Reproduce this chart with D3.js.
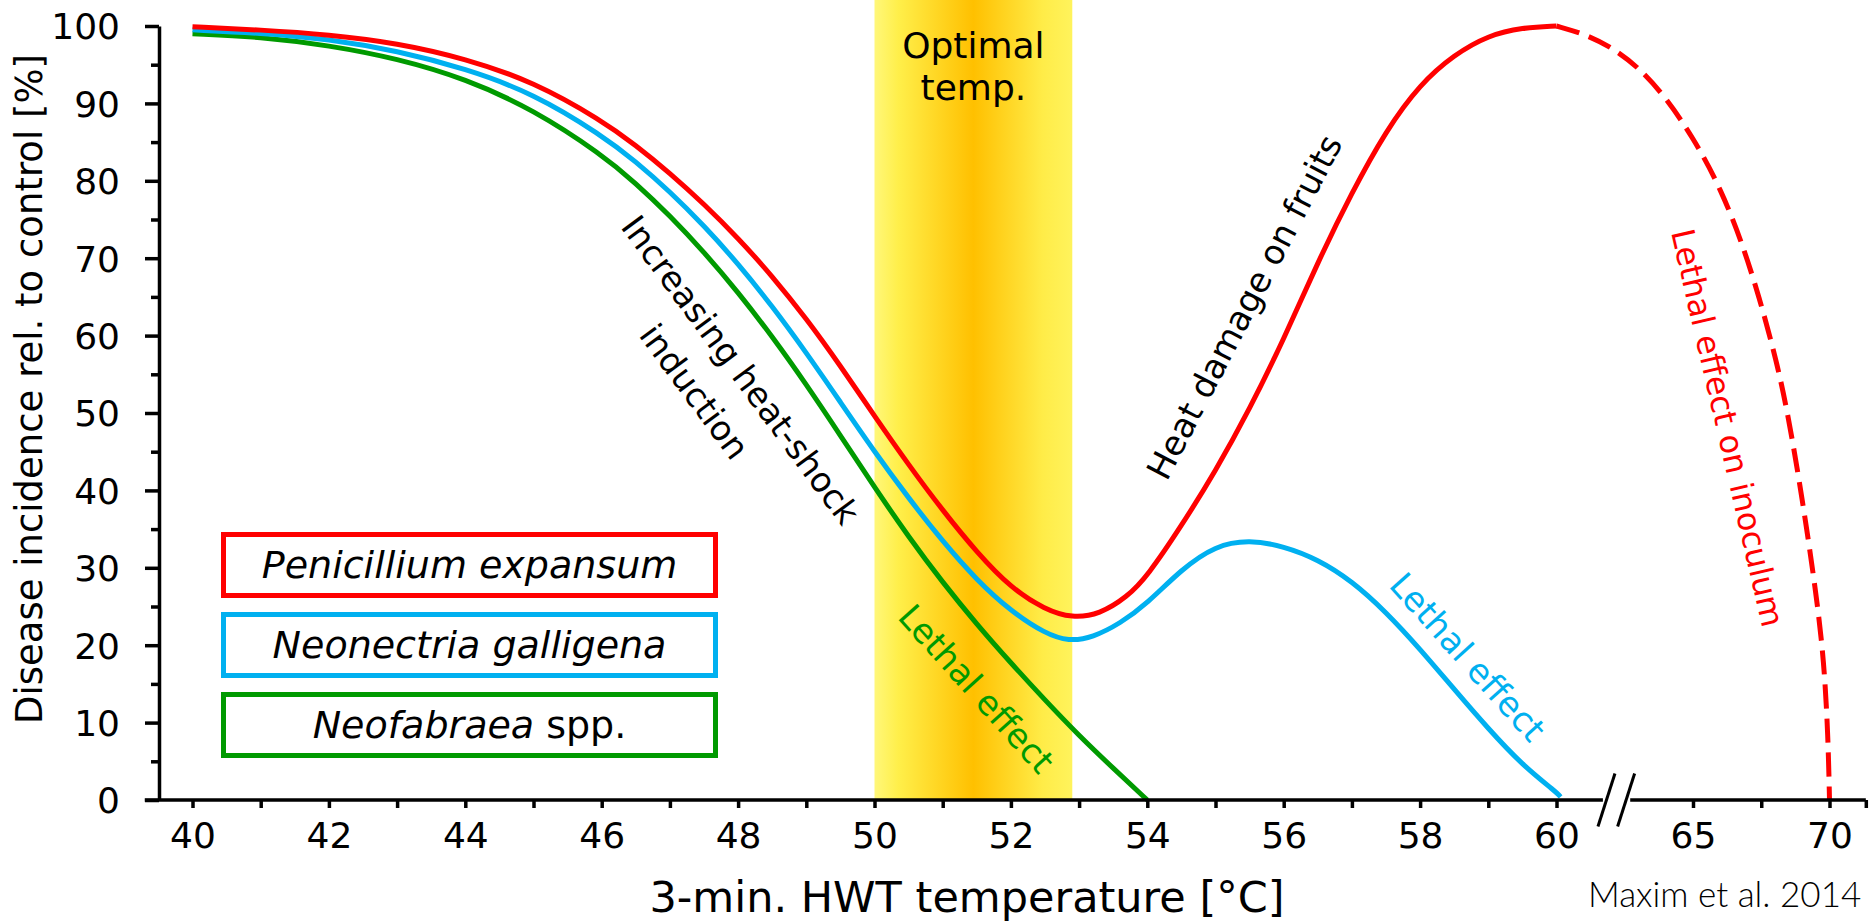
<!DOCTYPE html>
<html>
<head>
<meta charset="utf-8">
<script src="https://cdn.jsdelivr.net/npm/d3@7"></script>
<style>
  body { margin: 0; background: #fff; }
  svg { display: block; font-family: "DejaVu Sans", sans-serif; }
</style>
</head>
<body>
<div id="chart"></div>
<script>
//// data
var redTemp = [40,41,42,43,44,45,46,46.5,47,47.5,48,48.5,49,49.5,50,50.5,51,51.5,52,52.5,52.9,53.3,53.7,54,54.5,55,55.5,56,56.5,57,57.5,58,58.5,59,59.5,60];
var redVal  = [99.9,99.5,98.9,97.8,95.8,92.8,87.8,84.6,81.0,77.0,72.6,67.7,62.2,56.1,49.6,43.3,37.4,32.0,27.4,24.6,23.5,24.0,26.2,28.9,35.4,42.5,50.5,59.5,69.5,78.5,86.5,92.5,96.3,98.8,99.8,100];

var redDashTemp = [60,61,62,63,64,65,66,67,68,68.5,69,69.5,69.8,69.95,70];
var redDashVal  = [100,99.0,97.3,94.7,90.8,85.6,79.2,70.2,57.8,49.5,39.0,27.0,18.0,8.0,0];

var blueTemp = [40,41,42,43,44,45,46,46.5,47,47.5,48,48.5,49,49.5,50,50.5,51,51.5,52,52.5,52.85,53.2,53.6,54,54.5,55,55.5,56,56.5,57,57.5,58,58.5,59,59.5,60,60.15];
var blueVal  = [99.5,99.1,98.3,96.8,94.5,91.3,85.9,82.5,78.6,74.2,69.3,63.8,57.8,51.4,45.0,39.0,33.4,28.4,24.4,21.5,20.5,21.0,22.8,25.4,29.8,32.9,33.6,32.8,31.1,28.3,24.3,19.5,14.3,9.2,4.5,1.0,0.4];

var greenTemp = [40,41,42,43,44,45,46,46.5,47,47.5,48,48.5,49,49.5,50,50.5,51,51.5,52,52.5,53,53.5,54];
var greenVal  = [99.0,98.6,97.5,95.8,93.2,89.2,83.4,79.7,75.5,70.8,65.6,59.9,53.7,47.1,40.4,34.0,28.1,22.7,17.7,12.9,8.3,4.1,0];

var optimalRange = [50, 52.9];

var xMajor = [40,42,44,46,48,50,52,54,56,58,60,65,70];
var xMinor = [41,43,45,47,49,51,53,55,57,59,67.5,71.33];
var yMajor = [0,10,20,30,40,50,60,70,80,90,100];
var yMinor = [5,15,25,35,45,55,65,75,85,95];

var legendNames = ["Penicillium expansum", "Neonectria galligena", "Neofabraea"];

//// chart
var width = 1872, height = 923;
var red = "#ff0000", blue = "#00b0f0", green = "#009a00";

var svg = d3.select("#chart")
  .append("svg")
    .attr("width", width)
    .attr("height", height);

// broken x axis: 40-60 wide, 60-70 compressed
var x = d3.scaleLinear()
  .domain([40, 60, 70])
  .range([192.5, 1556.5, 1829.5]);

var y = d3.scaleLinear()
  .domain([0, 100])
  .range([800, 26]);

//// optimal band
var grad = svg.append("defs").append("linearGradient")
  .attr("id", "band")
  .attr("x1", 0).attr("x2", 1).attr("y1", 0).attr("y2", 0);
[[0, "#fff77a"], [0.12, "#ffef4a"], [0.5, "#ffc000"], [0.85, "#ffec48"], [1, "#fff35c"]]
  .forEach(function(s) {
    grad.append("stop").attr("offset", s[0]).attr("stop-color", s[1]);
  });

svg.append("rect")
  .attr("x", x(optimalRange[0]))
  .attr("y", 0)
  .attr("width", x(optimalRange[1]) - x(optimalRange[0]))
  .attr("height", y(0))
  .attr("fill", "url(#band)");

svg.append("text")
  .attr("x", x(d3.mean(optimalRange))).attr("y", 58)
  .attr("text-anchor", "middle").attr("font-size", 36)
  .text("Optimal");
svg.append("text")
  .attr("x", x(d3.mean(optimalRange))).attr("y", 100)
  .attr("text-anchor", "middle").attr("font-size", 36)
  .text("temp.");

//// curves
function pairs(t, v) { return t.map(function(d, i) { return [d, v[i]]; }); }

var line = d3.line()
  .x(function(d) { return x(d[0]); })
  .y(function(d) { return y(d[1]); })
  .curve(d3.curveBasis);

var series = [
  {data: pairs(greenTemp, greenVal), color: green, dash: null},
  {data: pairs(blueTemp, blueVal), color: blue, dash: null},
  {data: pairs(redTemp, redVal), color: red, dash: null},
  {data: pairs(redDashTemp, redDashVal), color: red, dash: "24,10"}
];

svg.selectAll(".curve")
  .data(series)
  .enter()
  .append("path")
    .attr("class", "curve")
    .attr("d", function(d) { return line(d.data); })
    .attr("fill", "none")
    .attr("stroke", function(d) { return d.color; })
    .attr("stroke-width", 5)
    .attr("stroke-dasharray", function(d) { return d.dash; });

//// axes
var axisColor = "#000";

function styleAxis(g) {
  g.attr("font-family", "DejaVu Sans").attr("font-size", 36);
  g.selectAll(".tick line").attr("stroke", axisColor).attr("stroke-width", 3.5);
  g.selectAll("text").attr("fill", "#000");
}

var gxMajor = svg.append("g")
  .attr("transform", "translate(0," + y(0) + ")")
  .call(d3.axisBottom(x).tickValues(xMajor).tickSize(8).tickFormat(d3.format("d")));
gxMajor.select(".domain").remove();
styleAxis(gxMajor);
gxMajor.selectAll("text").attr("y", 48).attr("dy", 0);

var gxMinor = svg.append("g")
  .attr("transform", "translate(0," + y(0) + ")")
  .call(d3.axisBottom(x).tickValues(xMinor).tickSize(8).tickFormat(""));
gxMinor.select(".domain").remove();
styleAxis(gxMinor);

// x axis line with break
var breakFrom = 61.7, breakTo = 62.7;
[[39.3, breakFrom], [breakTo, 71.33]].forEach(function(seg) {
  svg.append("line")
    .attr("x1", x(seg[0])).attr("x2", x(seg[1]))
    .attr("y1", y(0)).attr("y2", y(0))
    .attr("stroke", axisColor).attr("stroke-width", 3.5);
});
[61.83, 62.55].forEach(function(t) {
  svg.append("line")
    .attr("x1", x(t) - 8.5).attr("y1", y(0) + 26.5)
    .attr("x2", x(t) + 8.5).attr("y2", y(0) - 26.5)
    .attr("stroke", axisColor).attr("stroke-width", 3);
});

var gyMajor = svg.append("g")
  .attr("transform", "translate(159,0)")
  .call(d3.axisLeft(y).tickValues(yMajor).tickSize(14).tickSizeOuter(0).tickPadding(25));
styleAxis(gyMajor);
gyMajor.select(".domain").attr("stroke", axisColor).attr("stroke-width", 3.5);
gyMajor.selectAll("text").attr("dy", "0.36em");

var gyMinor = svg.append("g")
  .attr("transform", "translate(159,0)")
  .call(d3.axisLeft(y).tickValues(yMinor).tickSize(8).tickFormat(""));
gyMinor.select(".domain").remove();
styleAxis(gyMinor);

//// axis titles
svg.append("text")
  .attr("x", 967).attr("y", 912)
  .attr("text-anchor", "middle").attr("font-size", 43)
  .text("3-min. HWT temperature [°C]");

svg.append("text")
  .attr("transform", "translate(42,389) rotate(-90)")
  .attr("text-anchor", "middle").attr("font-size", 37)
  .text("Disease incidence rel. to control [%]");

svg.append("text")
  .attr("x", 1588).attr("y", 907)
  .attr("font-family", "Lato, sans-serif").attr("font-weight", 300)
  .attr("font-size", 35)
  .text("Maxim et al. 2014");

//// annotations along the curves
function note(t, v, angle, size, color, lines) {
  var g = svg.append("g")
    .attr("transform", "translate(" + x(t) + "," + y(v) + ") rotate(" + angle + ")");
  lines.forEach(function(l) {
    g.append("text")
      .attr("x", l[1]).attr("y", l[2]).attr("dy", "0.36em")
      .attr("text-anchor", "middle")
      .attr("font-size", size)
      .attr("fill", color)
      .text(l[0]);
  });
}

note(48.04, 55.6, 53.5, 34, "#000", [["Increasing heat-shock", 0, 0], ["induction", -10, 50]]);
note(51.5, 14.4, 48, 34, green, [["Lethal effect", 0, 0]]);
note(58.7, 18.5, 48, 34, blue, [["Lethal effect", 0, 0]]);
note(55.42, 63.7, -62.5, 34, "#000", [["Heat damage on fruits", 0, 0]]);
note(66.28, 48.1, 77, 32, red, [["Lethal effect on inoculum", 0, 0]]);

//// legend
var legendColors = [red, blue, green];
var legend = svg.selectAll(".legend")
  .data(legendNames)
  .enter()
  .append("g")
    .attr("class", "legend")
    .attr("transform", function(d, i) { return "translate(223.5," + (534.5 + i * 80) + ")"; });

legend.append("rect")
  .attr("width", 492)
  .attr("height", 61)
  .attr("fill", "#fff")
  .attr("stroke", function(d, i) { return legendColors[i]; })
  .attr("stroke-width", 5);

var legendText = legend.append("text")
  .attr("x", 246)
  .attr("y", 43.5)
  .attr("text-anchor", "middle")
  .attr("font-size", 38);

legendText.append("tspan")
  .attr("font-style", "italic")
  .text(function(d) { return d; });
legendText.filter(function(d, i) { return i === 2; })
  .append("tspan")
  .text(" spp.");
</script>
</body>
</html>
